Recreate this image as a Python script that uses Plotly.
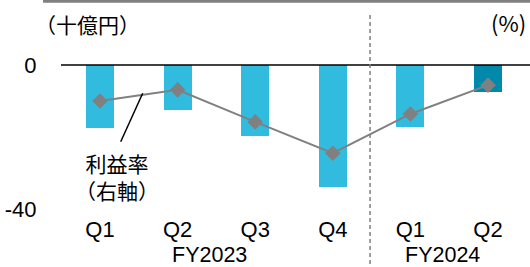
import plotly.graph_objects as go

# ---- data ----
quarters = ["Q1", "Q2", "Q3", "Q4", "Q1", "Q2"]
fiscal_years = ["FY2023", "FY2024"]
profit_bn_yen = [-17.5, -12.5, -19.7, -33.9, -17.2, -7.6]   # left axis (十億円)
margin_pct = [-10.0, -6.9, -15.8, -24.5, -13.6, -5.6]       # right axis (%)
y_ticks = [0, -40]

W, H = 530, 267
L, R, T, B = 61, 0, 15, 58
PW, PH = W - L - R, H - T - B

def px(x):
    return (x - L) / PW

def py(y):
    return (H - B - y) / PH

idx = list(range(len(quarters)))
bar_colors = ["#31BBDF"] * (len(quarters) - 1) + ["#0089AB"]

FONT = "Arial, 'Liberation Sans', 'Noto Sans CJK JP', sans-serif"
JFONT = "'Noto Sans CJK JP', 'Liberation Sans', sans-serif"

# y range so that 0 sits at pixel 65 and -40 at pixel 209
scale = 3.6
y_top = (65 - T) / scale
y_bot = -(H - B - 65) / scale
x_lo = (L - 100) / 77.6
x_hi = (W - R - 100) / 77.6

fig = go.Figure()
fig.add_trace(go.Bar(x=idx, y=profit_bn_yen, width=0.36,
                     marker=dict(color=bar_colors, line=dict(width=0)),
                     yaxis="y", showlegend=False))
fig.add_trace(go.Scatter(x=idx, y=margin_pct, mode="lines+markers",
                         line=dict(color="#808080", width=2),
                         marker=dict(symbol="diamond", size=12, color="#808080"),
                         yaxis="y2", showlegend=False))

fig.update_layout(
    width=W, height=H,
    margin=dict(l=L, r=R, t=T, b=B),
    paper_bgcolor="white", plot_bgcolor="white",
    font=dict(family=FONT, size=22, color="#000000"),
    xaxis=dict(range=[x_lo, x_hi], tickmode="array", tickvals=idx, ticktext=quarters,
               showgrid=False, zeroline=False, showline=False, ticks="outside",
               ticklen=1, tickcolor="rgba(0,0,0,0)", tickfont=dict(size=22)),
    yaxis=dict(range=[y_bot, y_top], tickmode="array", tickvals=y_ticks,
               ticktext=[str(v) for v in y_ticks], showgrid=False, zeroline=False,
               showline=False, ticks="outside", ticklen=19,
               tickcolor="rgba(0,0,0,0)", tickfont=dict(size=22)),
    yaxis2=dict(range=[y_bot, y_top], overlaying="y", side="right", visible=False),
    bargap=0,
)

shapes = [
    # top rule
    dict(type="line", xref="paper", yref="paper", x0=px(43), x1=px(530),
         y0=py(1.2), y1=py(1.2), line=dict(color="#808080", width=3)),
    # zero line
    dict(type="line", xref="paper", yref="y", x0=0, x1=1, y0=0, y1=0,
         line=dict(color="#000000", width=1.5)),
    # FY divider
    dict(type="line", xref="x", yref="paper", x0=3.48, x1=3.48,
         y0=py(15), y1=py(267), line=dict(color="#808080", width=1.5, dash="4px,3px")),
    # pointer for line label
    dict(type="line", xref="paper", yref="paper", x0=px(120.7), x1=px(142.7),
         y0=py(141.7), y1=py(93.3), line=dict(color="#000000", width=1.5)),
]

annotations = [
    dict(text="（十億円）", x=px(87.5), y=py(24), xref="paper", yref="paper",
         xanchor="center", yanchor="middle", showarrow=False,
         font=dict(family=JFONT, size=21)),
    dict(text="(%)", x=px(528), y=py(22), xref="paper", yref="paper",
         xanchor="right", yanchor="middle", showarrow=False,
         font=dict(family=JFONT, size=22)),
    dict(text="利益率<br>（右軸）", x=px(116.5), y=py(176), xref="paper", yref="paper",
         xanchor="center", yanchor="middle", showarrow=False, align="center",
         font=dict(family=JFONT, size=21)),
    dict(text=fiscal_years[0], x=1.41, y=py(254.5), xref="x", yref="paper",
         xanchor="center", yanchor="middle", showarrow=False, font=dict(size=21.5)),
    dict(text=fiscal_years[1], x=4.41, y=py(254.5), xref="x", yref="paper",
         xanchor="center", yanchor="middle", showarrow=False, font=dict(size=21.5)),
]

fig.update_layout(shapes=shapes, annotations=annotations)
fig.write_html("out.html", config={"displayModeBar": False},
               post_script="document.body.style.margin='0';document.body.style.overflow='hidden';")
